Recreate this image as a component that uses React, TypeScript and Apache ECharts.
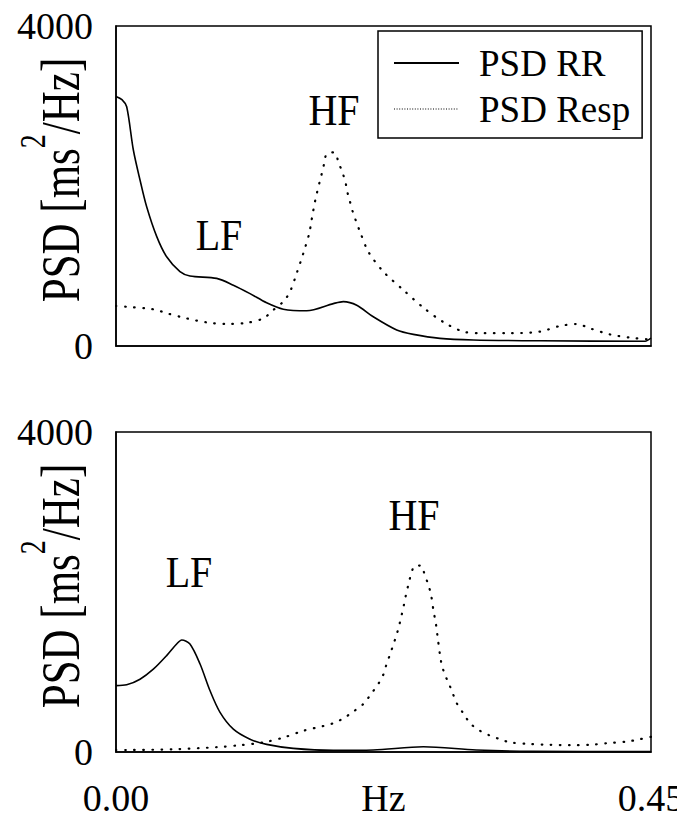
import React, { useEffect, useRef } from "react";
import * as echarts from "echarts";

const FONT = "Liberation Serif";

// x axis ticks
const xTickMin = 0;
const xTickMax = 0.45;
const yTickMin = 0;
const yTickMax = 4000;

// Top panel: PSD of RR
const topRRFreq = [0, 0.005, 0.009, 0.0146, 0.0202, 0.0258, 0.0342, 0.0426, 0.0538, 0.0622, 0.0847, 0.0987, 0.1127, 0.1267, 0.1407, 0.1604, 0.1828, 0.1912, 0.2025, 0.2164, 0.2361, 0.2501, 0.2725, 0.3005, 0.3566, 0.445, 0.45];
const topRRPsd = [3120, 3080, 2990, 2450, 2075, 1740, 1370, 1115, 930, 875, 845, 760, 655, 540, 460, 440, 530, 555, 510, 365, 200, 145, 95, 75, 65, 60, 100];

// Top panel: PSD of respiration
const topRespFreq = [0, 0.009, 0.026, 0.0342, 0.0426, 0.0595, 0.0763, 0.0931, 0.11, 0.1239, 0.1323, 0.1407, 0.1464, 0.152, 0.1576, 0.1626, 0.164, 0.1654, 0.1671, 0.1688, 0.171, 0.173, 0.175, 0.1772, 0.1836, 0.1873, 0.1904, 0.1929, 0.1946, 0.1968, 0.1991, 0.2019, 0.2052, 0.2122, 0.2248, 0.2417, 0.2585, 0.2753, 0.2921, 0.309, 0.3314, 0.3566, 0.3734, 0.3875, 0.3987, 0.4155, 0.4323, 0.45];
const topRespPsd = [500, 490, 470, 450, 410, 345, 295, 275, 290, 345, 450, 555, 680, 910, 1160, 1410, 1530, 1650, 1785, 1900, 2035, 2150, 2275, 2400, 2420, 2290, 2170, 2055, 1925, 1805, 1680, 1560, 1430, 1180, 930, 700, 480, 300, 180, 160, 160, 180, 250, 275, 220, 145, 105, 80];

// Bottom panel: PSD of RR
const botRRFreq = [0, 0.009, 0.0202, 0.0314, 0.0426, 0.051, 0.0553, 0.0622, 0.0707, 0.0791, 0.0875, 0.0987, 0.1127, 0.1267, 0.1491, 0.1828, 0.2164, 0.2585, 0.303, 0.35, 0.45];
const botRRPsd = [830, 840, 910, 1035, 1205, 1350, 1400, 1350, 1100, 765, 495, 285, 160, 95, 45, 20, 25, 65, 25, 8, 5];

// Bottom panel: PSD of respiration
const botRespFreq = [0, 0.009, 0.05, 0.0847, 0.104, 0.1239, 0.1407, 0.1576, 0.1744, 0.1828, 0.1912, 0.1996, 0.208, 0.215, 0.2206, 0.2248, 0.2276, 0.2304, 0.2332, 0.236, 0.2383, 0.2403, 0.2422, 0.2439, 0.2459, 0.2479, 0.2515, 0.2563, 0.2599, 0.2627, 0.265, 0.2669, 0.2692, 0.2703, 0.2725, 0.274, 0.2767, 0.2804, 0.2832, 0.2866, 0.2921, 0.2978, 0.3062, 0.3146, 0.323, 0.3314, 0.3482, 0.365, 0.382, 0.3987, 0.4127, 0.4295, 0.4407, 0.45];
const botRespPsd = [25, 25, 35, 60, 85, 120, 180, 265, 325, 360, 420, 505, 600, 735, 850, 965, 1100, 1215, 1340, 1465, 1590, 1715, 1840, 1965, 2090, 2205, 2330, 2330, 2205, 2090, 1965, 1780, 1590, 1465, 1215, 1090, 965, 840, 735, 610, 485, 360, 265, 205, 160, 120, 100, 90, 85, 90, 110, 130, 160, 190];

const seriesNames = ["PSD RR", "PSD Resp"];
const bandLabels = ["LF", "HF"];
const yAxisTitle = ["PSD [ms", "2", "/Hz]"];
const xAxisTitle = "Hz";

const zip = (xs: number[], ys: number[]) => xs.map((x, i) => [x, ys[i]]);

const solidStyle = { color: "#000", width: 1.6 };
const dottedStyle = { color: "#000", width: 2.2, type: [0.6, 8.5], cap: "round" };

export default function App() {
  const ref = useRef<HTMLDivElement>(null);
  useEffect(() => {
    if (!ref.current) return;
    const chart = echarts.init(ref.current, undefined, { renderer: "svg" });

    const grids = [
      { left: 116, top: 26, width: 535, height: 320 },
      { left: 116, top: 432, width: 535, height: 320 },
    ].map((g) => ({
      ...g,
      show: true,
      borderColor: "#000",
      borderWidth: 1.5,
      backgroundColor: "transparent",
      containLabel: false,
      outerBoundsMode: "none",
    }));

    const xAxes = [0, 1].map((i) => ({
      type: "value",
      gridIndex: i,
      min: xTickMin,
      max: xTickMax,
      interval: xTickMax,
      axisLine: { show: true, lineStyle: { color: "#000", width: 1.5 } },
      axisTick: { show: false },
      splitLine: { show: false },
      axisLabel: {
        show: i === 1,
        margin: 27,
        fontFamily: FONT,
        fontSize: 38,
        color: "#000",
        formatter: (v: number) => v.toFixed(2),
      },
      name: i === 1 ? xAxisTitle : "",
      nameLocation: "middle",
      nameGap: 27,
      nameMoveOverlap: false,
      nameTextStyle: { fontFamily: FONT, fontSize: 38, color: "#000", verticalAlign: "top" },
    }));

    const yAxes = [0, 1].map((i) => ({
      type: "value",
      gridIndex: i,
      min: yTickMin,
      max: yTickMax,
      interval: yTickMax,
      axisLine: { show: true, lineStyle: { color: "#000", width: 1.5 } },
      axisTick: { show: false },
      splitLine: { show: false },
      axisLabel: {
        margin: 23,
        fontFamily: FONT,
        fontSize: 38,
        color: "#000",
        formatter: (v: number) => String(v),
      },
    }));

    const mk = (name: string, xs: number[], ys: number[], idx: number, dotted: boolean) => ({
      name,
      type: "line",
      xAxisIndex: idx,
      yAxisIndex: idx,
      data: zip(xs, ys),
      symbol: "none",
      smooth: 0.3,
      lineStyle: dotted ? dottedStyle : solidStyle,
      itemStyle: { color: "#000" },
      z: dotted ? 2 : 3,
    });

    const yTitle = (y: number) => ({
      type: "text",
      x: 61,
      y,
      rotation: Math.PI / 2,
      scaleY: 1.3,
      style: {
        text: `{a|${yAxisTitle[0]}}{s|${yAxisTitle[1]}}{a|${yAxisTitle[2]}}`,
        rich: {
          a: { fontFamily: FONT, fontSize: 43, lineHeight: 43, fill: "#000" },
          s: { fontFamily: FONT, fontSize: 28, lineHeight: 28, padding: [0, 0, 43, 0], fill: "#000" },
        },
        fontFamily: FONT,
        fill: "#000",
        align: "center",
        verticalAlign: "middle",
        textAlign: "center",
        textVerticalAlign: "middle",
      },
    });

    const band = (text: string, x: number, y: number) => ({
      type: "text",
      x,
      y,
      scaleY: 1.1,
      style: {
        text,
        fontFamily: FONT,
        fontSize: 40,
        fill: "#000",
        align: "center",
        verticalAlign: "middle",
        textAlign: "center",
        textVerticalAlign: "middle",
      },
    });

    chart.setOption({
      animation: false,
      backgroundColor: "#fff",
      textStyle: { fontFamily: FONT },
      grid: grids,
      xAxis: xAxes,
      yAxis: yAxes,
      legend: {
        left: 378,
        top: 31,
        orient: "vertical",
        padding: [12, 12, 9, 15],
        itemWidth: 65,
        itemHeight: 14,
        itemGap: 6,
        borderColor: "#000",
        borderWidth: 1.5,
        backgroundColor: "#fff",
        selectedMode: false,
        itemStyle: { opacity: 0, borderWidth: 0 },
        textStyle: { fontFamily: FONT, fontSize: 37, color: "#000", lineHeight: 40, padding: [0, 0, 0, 15] },
        data: [
          { name: seriesNames[0], itemStyle: { opacity: 0, borderWidth: 0 } },
          {
            name: seriesNames[1],
            itemStyle: { opacity: 0, borderWidth: 0 },
            lineStyle: { color: "#000", width: 1.2, type: [1, 1.6], cap: "butt" },
          },
        ],
      },
      graphic: [
        yTitle(180),
        yTitle(586),
        band(bandLabels[0], 219, 235),
        band(bandLabels[1], 334, 110),
        band(bandLabels[0], 189, 572),
        band(bandLabels[1], 414, 515),
      ],
      series: [
        mk(seriesNames[0], topRRFreq, topRRPsd, 0, false),
        mk(seriesNames[1], topRespFreq, topRespPsd, 0, true),
        mk(seriesNames[0], botRRFreq, botRRPsd, 1, false),
        mk(seriesNames[1], botRespFreq, botRespPsd, 1, true),
      ],
    });
    return () => chart.dispose();
  }, []);
  return <div ref={ref} style={{ position: "fixed", left: 0, top: 0, width: 677, height: 821 }} />;
}
